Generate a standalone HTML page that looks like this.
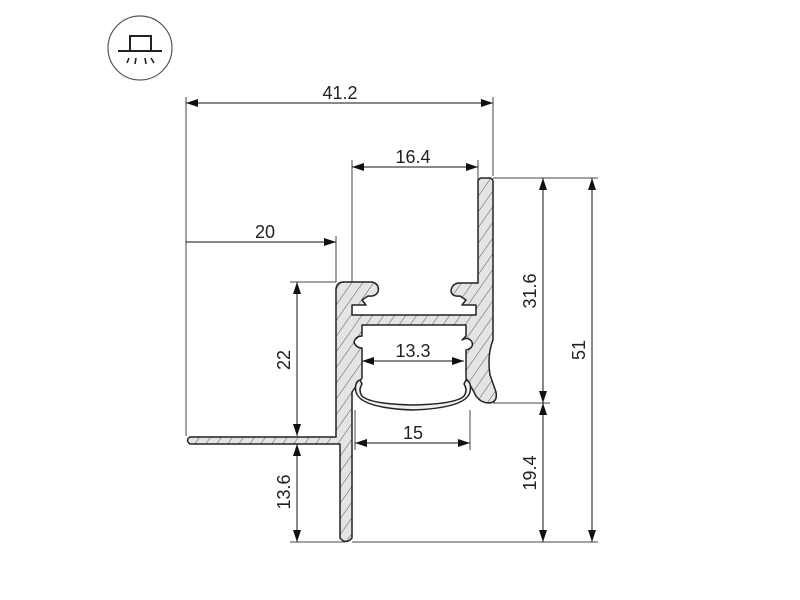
<!DOCTYPE html>
<html><head><meta charset="utf-8"><style>
html,body{margin:0;padding:0;background:#fff;}
svg{display:block;}
text{font-family:"Liberation Sans",sans-serif;font-size:18px;fill:#222;}
</style></head><body>
<svg width="800" height="600" viewBox="0 0 800 600">
<defs>
<pattern id="h" patternUnits="userSpaceOnUse" width="9" height="9" patternTransform="rotate(35)">
<rect width="9" height="9" fill="#e4e4e4"/>
<line x1="0" y1="0" x2="0" y2="9" stroke="#555" stroke-width="1"/>
</pattern>
<marker id="a" markerWidth="12" markerHeight="8" refX="12" refY="4" orient="auto-start-reverse" markerUnits="userSpaceOnUse">
<path d="M0,0 L12,4 L0,8 Z" fill="#111"/>
</marker>
</defs>
<!-- icon -->
<circle cx="140" cy="48" r="32" fill="none" stroke="#555" stroke-width="1.2"/>
<path d="M118,51 L162,51 M130,51 L130,36 L151,36 L151,51" fill="none" stroke="#222" stroke-width="2"/>
<path d="M129,58 L127,63 M136,58 L135,64 M145,58 L146,64 M151,58 L154,63" stroke="#222" stroke-width="1.6"/>
<!-- extension lines -->
<g stroke="#444" stroke-width="1" fill="none">
<path d="M186,97 V436 M493,97 V176 M352,160 V282 M478,160 V180 M336,236 V282 M290,282 H336 M290,542 H345 M493,178 H598 M493,403 H550 M352,542 H598 M355,410 V450 M470,410 V450"/>
</g>
<!-- dimension lines -->
<g stroke="#111" stroke-width="1" fill="none" marker-start="url(#a)" marker-end="url(#a)">
<line x1="186" y1="103" x2="493" y2="103"/>
<line x1="352" y1="167" x2="478" y2="167"/>
<line x1="362" y1="361" x2="464" y2="361"/>
<line x1="355" y1="443" x2="470" y2="443"/>
<line x1="297" y1="282" x2="297" y2="436"/>
<line x1="297" y1="444" x2="297" y2="542"/>
<line x1="543" y1="178" x2="543" y2="403"/>
<line x1="543" y1="403" x2="543" y2="542"/>
<line x1="592" y1="178" x2="592" y2="542"/>
</g>
<line x1="186" y1="242" x2="336" y2="242" stroke="#111" marker-end="url(#a)"/>
<!-- profile -->
<path d="M336,290 Q336,282 344,282 L372,282 Q380,284 378,292 Q375,297 368,296 L362,300 L366,305 L352,305 L352,315 L476,315 L476,305 L462,305 L466,300 L460,296 Q452,297 451,291 Q452,283 460,283 L478,283 L478,182 Q478,178 482,178 L489,178 Q493,178 493,182 L493,340 Q487,355 490,375 L496,392 Q498,403 488,403 Q478,402 474,392 L466,378 L466,350 Q474,348 472,342 Q468,336 462,340 L466,336 L466,325 L362,325 L362,336 Q356,336 354,342 Q356,348 362,348 L362,378 L352,392 L352,538 Q346,545 340,538 L340,444 L190,444 Q185,440 190,437 L336,437 Z" fill="url(#h)" stroke="#222" stroke-width="1.5" stroke-linejoin="round"/>
<path d="M360,380 Q354,382 356,392 Q360,408 413,410 Q466,408 470,392 Q472,382 466,380 L464,384 Q468,390 464,396 Q456,404 413,405 Q370,404 362,396 Q358,390 362,384 Z" fill="#f0f0f0" stroke="#222" stroke-width="1.5"/>
<!-- labels -->
<text x="340" y="99" text-anchor="middle">41.2</text>
<text x="413" y="163" text-anchor="middle">16.4</text>
<text x="265" y="238" text-anchor="middle">20</text>
<text x="413" y="357" text-anchor="middle">13.3</text>
<text x="413" y="439" text-anchor="middle">15</text>
<text transform="translate(290,360) rotate(-90)" text-anchor="middle">22</text>
<text transform="translate(290,492) rotate(-90)" text-anchor="middle">13.6</text>
<text transform="translate(536,291) rotate(-90)" text-anchor="middle">31.6</text>
<text transform="translate(536,473) rotate(-90)" text-anchor="middle">19.4</text>
<text transform="translate(585,350) rotate(-90)" text-anchor="middle">51</text>
</svg>
</body></html>
